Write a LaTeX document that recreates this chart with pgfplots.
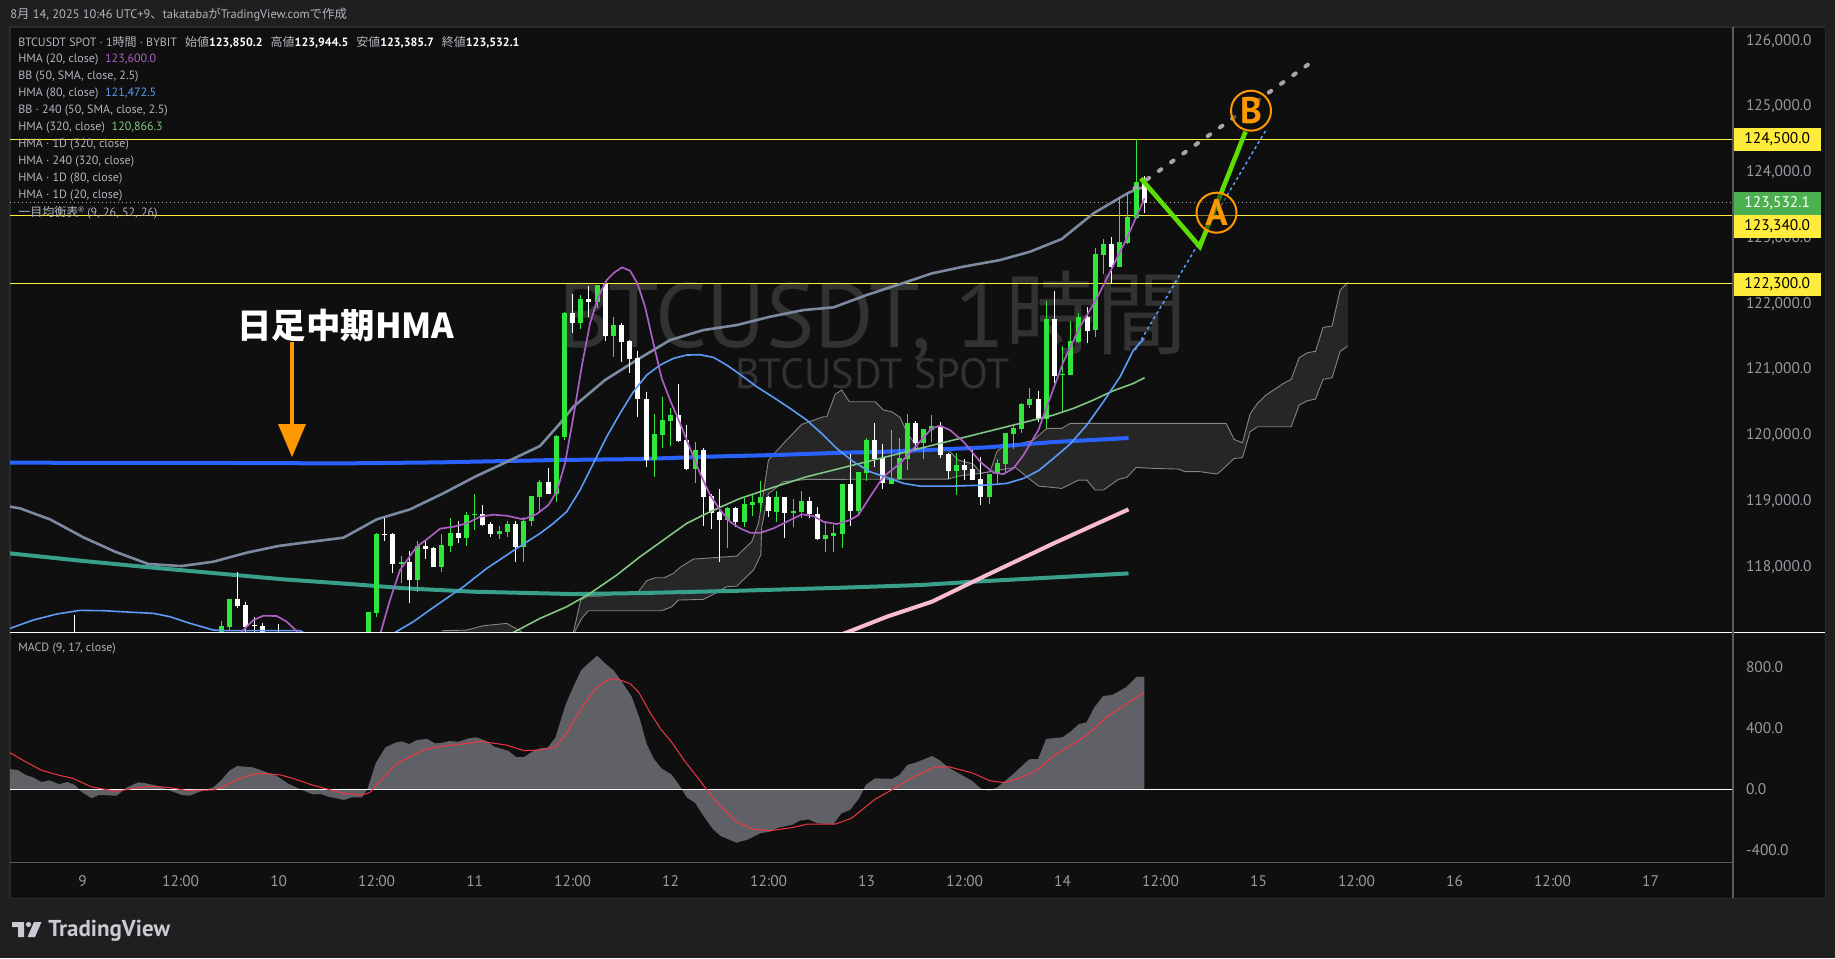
\documentclass[border=0pt]{standalone}
\usepackage{fontspec}
\usepackage{pgfplots}
\usepackage{pgfplotstable}
\pgfplotsset{compat=1.18}
\setmainfont{PT Sans}
\newfontfamily\jp{Noto Sans CJK JP}
\definecolor{outer}{HTML}{1F1F1F}
\definecolor{pane}{HTML}{0F0F0F}
\definecolor{edge}{HTML}{2B2B2B}
\definecolor{axline}{HTML}{5A5A5A}
\definecolor{lbl}{HTML}{B2B5BE}
\definecolor{wm}{HTML}{323232}
\definecolor{cgreen}{HTML}{30E63A}
\definecolor{hma20}{HTML}{AB5FC4}
\definecolor{hma80}{HTML}{5B9CF6}
\definecolor{hma320}{HTML}{81C784}
\definecolor{bb}{HTML}{7B8A9E}
\definecolor{dblue}{HTML}{2962FF}
\definecolor{teal}{HTML}{379F8A}
\definecolor{pink}{HTML}{F8BBD0}
\definecolor{cloud}{HTML}{262626}
\definecolor{cloudline}{HTML}{858585}
\definecolor{hline}{HTML}{FFEB3B}
\definecolor{zig}{HTML}{5CDE00}
\definecolor{org}{HTML}{FF9800}
\definecolor{hist}{HTML}{606166}
\definecolor{sig}{HTML}{F23645}
\definecolor{lastg}{HTML}{4CAF50}

% hourly candles, t = hours since Aug 9 00:00, body low/high, wick low/high
\pgfplotstableread{
t bl bh wl wh
17 116800 117098 116700 117174
18 117077 117508 117037 117508
35 116700 117305 116600 117310
36 117300 118496 117239 118507
39 118040 118071 117746 118162
41 117797 118314 117619 118390
44 117999 118324 117924 118496
45 118319 118507 118223 118735
47 118436 118780 118319 118836
48 118785 118801 118557 119105
51 118496 118537 118425 118618
52 118527 118649 118456 118699
54 118304 118699 118076 118760
55 118699 119074 118623 119074
56 119064 119287 118836 119318
58 119105 119987 118988 120002
59 119977 121853 119926 121878
61 121711 122066 121620 122132
63 122025 122284 121929 122284
65 121508 121675 121194 121792
70 119622 120017 119369 120322
71 120002 120230 119799 120575
72 120215 120306 119835 120408
75 119480 119774 119267 119891
79 118709 118887 118289 118912
81 118679 118948 118598 119049
82 118938 118978 118770 119090
83 118963 119054 118836 119303
85 118836 119054 118684 119156
87 118821 118841 118608 119024
88 118836 118993 118735 119151
91 118415 118476 118228 118659
92 118471 118507 118228 118633
93 118496 119257 118289 119257
95 118846 119439 118770 119439
96 119429 119926 119303 119951
99 119262 119343 119262 120078
100 119328 119647 119318 119951
101 119637 120180 119470 120317
103 119886 120093 119637 120093
104 120078 120139 119901 120306
107 119460 119541 119090 119723
111 119059 119409 118953 119409
112 119409 119571 119267 119632
113 119561 120028 119419 120028
114 120023 120109 119794 120144
115 120099 120474 120038 120484
116 120459 120545 120418 120712
118 120251 121762 120104 122035
120 120920 120930 120357 121356
121 120915 121432 120915 121736
122 121422 121792 121397 121853
124 121599 122755 121498 122842
125 122740 122908 122446 122984
127 122558 122938 122558 123627
128 122923 123318 122902 123678
129 123308 123845 123283 124499
}\greencandles
\pgfplotstableread{
t bl bh wl wh
-1 116700 116900 116600 117265
19 117402 117508 117372 117919
20 117088 117417 116950 117463
21 117100 117115 116900 117240
22 116986 117098 116900 117148
24 116800 116950 116700 117128
37 118476 118496 118390 118735
38 118045 118496 117908 118507
40 117797 118071 117452 118238
42 118273 118314 118121 118390
43 117999 118284 117994 118294
46 118436 118507 118354 118694
49 118628 118796 118618 118938
50 118496 118649 118456 118684
53 118304 118649 118076 118699
57 119105 119287 119105 119495
60 121711 121853 121559 122147
62 122030 122066 121802 122269
64 121508 122294 121432 122300
66 121417 121675 121118 121701
67 121158 121432 120950 121447
68 120545 121168 120281 121280
69 119622 120545 119521 120651
73 119911 120306 119901 120778
74 119480 119926 119470 120154
76 119064 119774 118623 119800
77 118821 119074 118567 119105
78 118709 118831 118076 119181
80 118679 118887 118608 118902
84 118846 119054 118760 119074
86 118821 119054 118441 119064
89 118801 118993 118745 119054
90 118415 118801 118405 118907
94 118846 119257 118623 119708
97 119637 119926 119521 120180
98 119267 119652 119181 119860
102 119886 120180 119784 120210
105 119698 120139 119647 120195
106 119460 119708 119328 119734
108 119470 119546 119318 119632
109 119318 119485 119318 119774
110 119059 119333 118938 119673
117 120251 120545 120200 120672
119 120900 121762 120798 122192
123 121589 121792 121407 121944
126 122558 122908 122299 123014
130 123532 123850 123386 123945
}\whitecandles

\newcommand{\candles}[2]{%
  \addplot[draw=none,forget plot,error bars/.cd,y dir=plus,y explicit,error mark=none,
    error bar style={draw=#2,line width=0.5pt}]
    table[x=t,y=wl,y error plus expr=\thisrow{wh}-\thisrow{wl}] {#1};
  \addplot[draw=none,forget plot,error bars/.cd,y dir=plus,y explicit,error mark=none,
    error bar style={draw=#2,line width=2.5pt}]
    table[x=t,y=bl,y error plus expr=\thisrow{bh}-\thisrow{bl}] {#1};
}

\begin{document}
\begin{tikzpicture}[x=0.5pt,y=-0.5pt]
\path[use as bounding box,fill=outer] (0,0) rectangle (1835,958);
\fill[edge] (9,26) rectangle (1826,899);
\fill[pane] (10.5,27.5) rectangle (1825,898);

% watermark
\node[anchor=west,text=wm,inner sep=0pt] at (558,316) {\fontsize{45.5}{46}\selectfont BTCUSDT, 1{\jp 時間}};
\node[anchor=west,text=wm,inner sep=0pt] at (735,374) {\fontsize{21.1}{22}\selectfont BTCUSDT SPOT};

% price pane
\begin{axis}[
  at={(5pt,-316pt)},anchor=south west,
  scale only axis,width=861.5pt,height=302.5pt,
  xmin=-8.9,xmax=202.1,ymin=117007,ymax=126208,
  xtick=\empty,
  ytick={118000,119000,120000,121000,122000,123000,124000,125000,126000},
  yticklabel pos=right,
  scaled y ticks=false,
  axis line style={draw=none},
  major tick length=0pt,
  yticklabel style={font=\fontsize{7.7}{9}\selectfont,text=lbl!85!black,xshift=3pt,
    /pgf/number format/.cd,fixed,fixed zerofill,precision=1,1000 sep={,},assume math mode=true},
]
% ichimoku
\addplot[fill=cloud,draw=none,forget plot] coordinates {
(43,116500)(43.96,117026)(47,117036)(49.07,117102)(51.93,117138)(53.76,117011)(55,116500)} -- cycle;
\addplot[cloudline,line width=0.45pt,forget plot] coordinates {
(43.96,117026)(47,117036)(49.07,117102)(51.93,117138)(53.76,117011)(55,116800)};
\addplot[fill=cloud,draw=none,forget plot] coordinates {
(60.09,117000)(60.99,117493)(61.93,117553)(63.36,117553)(68.05,117619)(69.07,117787)(70.09,117832)(71.2,117832)(72.34,117898)(73.16,117990)(74.79,118116)(80.1,118162)(81.93,118380)(82.75,118659)(83.36,119115)(83.98,119622)(86.02,119901)(88.06,120165)(90.71,120281)(91.12,120281)(92.14,120621)(92.95,120687)(93.89,120509)(97.04,120509)(98.06,120383)(99.08,120357)(100.1,120271)(101,120028)(101.73,119901)(102.55,119774)(106,119774)(107.24,119622)(109.08,119561)(110.02,119419)(111.12,119445)(111.94,119749)(112.68,119825)(114.19,119850)(116.43,119926)(118.06,120104)(119.9,120104)(120.92,120180)(140.03,120180)(141,119936)(142.03,119886)(142.96,120322)(143.86,120484)(144.92,120611)(147.05,120788)(147.99,120849)(148.97,121179)(149.99,121255)(150.97,121275)(151.9,121640)(153,121660)(153.99,122208)(154.93,122324)
(154.93,121356)(153.99,121275)(153,120874)(151.9,120849)(150.97,120550)(149.99,120525)(148.97,120459)(147.99,120129)(143.86,120129)(142.96,120053)(142.03,119658)(141,119647)(139.5,119470)(138.9,119409)(136.85,119445)(135,119445)(134.19,119485)(131.13,119495)(129.01,119510)(127.86,119358)(126.84,119328)(125,119166)(123.98,119166)(122.96,119318)(121.94,119318)(119.9,119191)(117.04,119227)(114.19,119511)(111.12,119445)(109.9,119419)(107.24,119379)(106,119333)(88.67,119328)(85.81,119292)(84.59,119166)(83.98,119115)(83.16,118608)(83.04,118177)(82.14,117949)(80.1,117705)(78.87,117695)(77.44,117594)(76.01,117503)(72.95,117493)(72.14,117391)(70.91,117331)(61.93,117331)(61.11,117214)(60.21,117000)} -- cycle;
\addplot[cloudline,line width=0.45pt,forget plot] coordinates {
(60.09,117000)(60.99,117493)(61.93,117553)(63.36,117553)(68.05,117619)(69.07,117787)(70.09,117832)(71.2,117832)(72.34,117898)(73.16,117990)(74.79,118116)(80.1,118162)(81.93,118380)(82.75,118659)(83.36,119115)(83.98,119622)(86.02,119901)(88.06,120165)(90.71,120281)(91.12,120281)(92.14,120621)(92.95,120687)(93.89,120509)(97.04,120509)(98.06,120383)(99.08,120357)(100.1,120271)(101,120028)(101.73,119901)(102.55,119774)(106,119774)(107.24,119622)(109.08,119561)(110.02,119419)(111.12,119445)(111.94,119749)(112.68,119825)(114.19,119850)(116.43,119926)(118.06,120104)(119.9,120104)(120.92,120180)(140.03,120180)(141,119936)(142.03,119886)(142.96,120322)(143.86,120484)(144.92,120611)(147.05,120788)(147.99,120849)(148.97,121179)(149.99,121255)(150.97,121275)(151.9,121640)(153,121660)(153.99,122208)(154.93,122324)};
\addplot[cloudline,line width=0.45pt,forget plot] coordinates {
(60.21,117000)(61.11,117214)(61.93,117331)(70.91,117331)(72.14,117391)(72.95,117493)(76.01,117503)(77.44,117594)(78.87,117695)(80.1,117705)(82.14,117949)(83.04,118177)(83.16,118608)(83.98,119115)(84.59,119166)(85.81,119292)(88.67,119328)(106,119333)(107.24,119379)(109.9,119419)(111.12,119445)(114.19,119511)(117.04,119227)(119.9,119191)(121.94,119318)(122.96,119318)(123.98,119166)(125,119166)(126.84,119328)(127.86,119358)(129.01,119510)(131.13,119495)(134.19,119485)(135,119445)(136.85,119445)(138.9,119409)(139.5,119470)(141,119647)(142.03,119658)(142.96,120053)(143.86,120129)(147.99,120129)(148.97,120459)(149.99,120525)(150.97,120550)(151.9,120849)(153,120874)(153.99,121275)(154.93,121356)};

% horizontal levels
\addplot[hline,line width=0.5pt,forget plot] coordinates {(-8.9,124500)(202.1,124500)};
\addplot[hline,line width=0.5pt,forget plot] coordinates {(-8.9,123340)(202.1,123340)};
\addplot[hline,line width=0.5pt,forget plot] coordinates {(-8.9,122300)(202.1,122300)};
\addplot[lbl,line width=0.5pt,dash pattern=on 0.5pt off 1.5pt,forget plot] coordinates {(-8.9,123532.1)(202.1,123532.1)};

% higher timeframe HMAs
\addplot[teal,line width=2pt,forget plot] coordinates {
(-8.9,118203)(0.08,118087)(8.24,117990)(16.41,117899)(24.57,117808)(32.74,117737)(39.7,117670)(47.84,117620)(60.09,117584)(68.26,117599)(80.5,117635)(92.75,117680)(102.55,117721)(109.08,117772)(118.88,117837)(128.07,117898)};
\addplot[pink,line width=2pt,forget plot] coordinates {
(90,116850)(93.57,117000)(98.47,117239)(103.98,117467)(110.72,117873)(118.88,118354)(128.07,118872)};
\addplot[dblue,line width=2pt,forget plot] coordinates {
(-8.9,119582)(20,119577)(31.5,119571)(43.76,119587)(57.64,119622)(68.26,119637)(76.4,119673)(84.6,119698)(92.75,119733)(98.47,119749)(110.72,119815)(118.88,119896)(128.07,119957)};
% BB 240
\addplot[bb,line width=1.3pt,forget plot] coordinates {
(-8.9,118913)(-7.68,118888)(-4,118720)(0.08,118447)(3.96,118229)(8.04,118041)(12.12,118010)(16,118076)(20.08,118213)(23.96,118315)(28.05,118381)(31.93,118441)(36,118720)(40.09,118872)(44.17,119116)(48.05,119369)(51.12,119547)(56,119835)(58.46,120180)(60.09,120433)(63.97,120839)(67.85,121143)(71.93,121447)(76.01,121599)(80.1,121675)(84.18,121802)(88.26,121903)(91.93,121944)(96.02,122132)(100.1,122299)(104,122461)(107.86,122563)(112.35,122664)(116,122790)(119.9,122984)(123.78,123374)(128.07,123688)(130,123780)};

\candles{\greencandles}{cgreen}
\candles{\whitecandles}{white}

% HMA 320
\addplot[hma320,line width=0.8pt,forget plot] coordinates {
(50,116850)(52.74,117000)(56.01,117214)(59.27,117391)(62.13,117594)(65.4,117873)(68.26,118152)(71.11,118405)(73.97,118659)(76.83,118836)(80.51,119039)(84.18,119191)(88.67,119369)(94.38,119546)(98.47,119673)(102.55,119800)(106.63,119926)(110.72,120053)(114.8,120180)(118.88,120306)(121.33,120408)(123.78,120535)(126.23,120677)(128.68,120788)(130.03,120874)};
% HMA 80
\addplot[hma80,line width=0.8pt,forget plot] coordinates {
(-8.9,117062)(-6.05,117189)(-3.19,117280)(-0.33,117336)(2.53,117331)(6.2,117306)(8.65,117291)(10.69,117240)(13.14,117139)(16,117037)(17.63,117027)(26.6,117027)(30,116800)(36,116800)(38.25,117000)(40.49,117163)(43.35,117416)(46.62,117695)(49.48,117974)(53.15,118278)(56.01,118507)(57.64,118659)(59.27,118836)(60.91,119166)(62.54,119571)(64.17,119977)(65.81,120332)(67.44,120661)(69.07,120915)(70.71,121067)(72.34,121168)(73.97,121219)(75.6,121224)(77.24,121184)(78.87,121067)(80.5,120925)(82.55,120737)(84.59,120575)(86.63,120408)(88.67,120230)(90.71,120002)(92.34,119800)(94.38,119597)(96.42,119445)(98.47,119358)(100.51,119267)(102.55,119226)(106.63,119226)(110.72,119242)(113.16,119267)(115.21,119343)(117.04,119460)(118.88,119647)(120.92,119865)(122.96,120154)(125,120509)(127.05,120890)(128.68,121295)(130,121472)};
% HMA 20
\addplot[hma20,line width=0.85pt,forget plot] coordinates {
(18.5,116800)(19.47,117012)(20.9,117189)(22.13,117255)(23.76,117250)(24.98,117164)(26.29,117012)(27.5,116800)(35.5,116700)(36.49,117000)(37.63,117493)(38.86,117949)(40.9,118304)(42.13,118415)(43.76,118578)(45.39,118608)(47.03,118659)(48.66,118760)(50.29,118791)(51.93,118775)(53.97,118720)(55.6,118801)(57.03,118938)(58.05,119140)(59.07,119571)(60.09,120281)(61.11,121042)(62.13,121701)(63.15,122106)(64.17,122360)(65.07,122471)(66.05,122552)(67.03,122502)(67.93,122309)(68.87,121954)(69.89,121396)(70.91,120864)(71.93,120535)(73.16,120180)(74.38,119799)(75.61,119419)(76.83,119090)(78.06,118862)(79.28,118684)(80.51,118583)(81.73,118517)(83.04,118517)(84.59,118583)(86.22,118684)(88.06,118796)(89.49,118770)(90.71,118684)(92.35,118649)(93.97,118710)(95,118786)(96.42,119064)(98.06,119369)(100.1,119571)(102.14,119850)(103.98,120104)(105,120144)(106.22,120078)(107.86,119901)(109.9,119597)(111.53,119429)(112.76,119409)(113.98,119495)(115.21,119698)(117.04,120078)(118.06,120433)(120.11,121118)(122.15,121650)(124.19,122081)(125.62,122436)(127.87,122994)(130.03,123602)};

% hand-drawn trend lines
\addplot[hma80,line width=0.75pt,dash pattern=on 1.5pt off 1.5pt,forget plot] coordinates {(128.88,121295)(144.9,124640)};
\addplot[black!35,line width=2pt,line cap=round,dash pattern=on 1.5pt off 6pt,forget plot] coordinates {(128.8,123754)(151.1,125729)};
\addplot[zig,line width=2.3pt,forget plot] coordinates {(129.58,123906)(136.8,122867)(142.4,124616)};
\end{axis}

% macd pane
\begin{axis}[
  at={(5pt,-431.25pt)},anchor=south west,
  scale only axis,width=861.5pt,height=115.25pt,
  xmin=-8.9,xmax=202.1,ymin=-481,ymax=1033.5,
  xtick={0,12,24,36,48,60,72,84,96,108,120,132,144,156,168,180,192},
  xticklabels={9,12:00,10,12:00,11,12:00,12,12:00,13,12:00,14,12:00,15,12:00,16,12:00,17},
  ytick={-400,0,400,800},
  yticklabel pos=right,
  axis line style={draw=none},
  major tick length=0pt,
  xticklabel style={font=\fontsize{7.7}{9}\selectfont,text=lbl!85!black,yshift=-3pt},
  yticklabel style={font=\fontsize{7.7}{9}\selectfont,text=lbl!85!black,xshift=3pt,
    /pgf/number format/.cd,fixed,fixed zerofill,precision=1,assume math mode=true},
]
\addplot[fill=hist,draw=none,forget plot] coordinates {
(-8.92,0)(-8.92,133)(-7.95,127)(-6.98,94)(-6.01,77)(-5.04,48)(-4.08,59)(-2.87,33)(-1.9,48)(-0.93,28)(-0.2,-15)(1.11,-59)(1.98,-37)(4.16,-42)(5.37,11)(6.82,46)(7.79,39)(9.24,22)(10.7,-9)(12.15,-37)(13.12,-42)(14.09,-20)(16.02,13)(16.99,61)(17.96,122)(18.93,153)(20.87,144)(22.32,116)(23.77,87)(25.22,35)(26.68,0)(28.13,-33)(29.1,-31)(30.07,-48)(32,-70)(32.97,-53)(34.18,-53)(34.91,6)(35.88,171)(37.09,276)(38.3,307)(39.03,315)(40,298)(40.96,324)(42.17,331)(43.14,302)(44.11,306)(44.84,317)(46.05,313)(47.26,335)(48.23,342)(49.44,317)(50.41,280)(52.1,254)(53.07,212)(54.04,212)(55.25,254)(55.98,269)(56.94,274)(57.91,342)(59.12,554)(60.09,674)(61.06,784)(62.03,832)(63,878)(63.97,828)(65.05,779)(66.02,707)(67.23,609)(68.2,466)(69.07,298)(69.9,204)(70.87,138)(72.08,98)(73.05,28)(74.01,-55)(74.98,-88)(75.95,-169)(77.16,-261)(78.13,-307)(80.07,-351)(81.52,-329)(82.97,-289)(84.18,-278)(85.15,-252)(86.85,-234)(87.82,-206)(88.88,-197)(90,-224)(91.93,-230)(92.9,-158)(93.97,-136)(95.08,-59)(95.9,28)(97.02,72)(99.1,68)(100.02,94)(100.99,160)(102.1,177)(104.04,219)(105.01,188)(105.98,144)(108.88,57)(110.09,0)(111.06,-9)(112.03,13)(113.97,101)(115.9,197)(117,199)(117.99,331)(120,342)(120.97,379)(121.96,427)(122.93,440)(123.9,539)(124.96,613)(126.08,620)(127.77,670)(129.08,740)(130,738)(130,0)} -- cycle;
\addplot[white,line width=0.5pt,forget plot] coordinates {(-8.9,0)(202.1,0)};
\addplot[sig,line width=0.5pt,forget plot] coordinates {
(-8.92,241)(-7.22,188)(-5.04,125)(-2.87,92)(-1.17,72)(1.01,17)(2.46,2)(4.16,-13)(6.34,7)(8.52,20)(10.7,11)(12.63,-7)(16.02,-4)(17.23,17)(18.93,66)(20.87,98)(22.32,105)(24.25,94)(25.95,68)(28.13,28)(30.07,0)(32,-26)(34.18,-37)(35.15,-22)(36.36,50)(38.54,171)(40.23,219)(41.93,263)(43.63,280)(46.05,295)(48.71,315)(51.86,291)(54.04,254)(55.98,258)(57.91,280)(59.12,357)(61.06,532)(63,674)(64.33,718)(65.39,725)(66.99,696)(68.06,641)(69.41,510)(70.87,390)(72.08,313)(73.77,182)(75.23,83)(76.44,-4)(78.13,-114)(80.07,-213)(82.01,-261)(84.18,-272)(87.09,-250)(88.78,-228)(92.18,-228)(94.11,-191)(95.31,-140)(97.02,-66)(99.44,7)(101.62,79)(104.28,144)(105.98,149)(108.88,109)(111.06,57)(112.76,44)(114.94,77)(116.87,127)(119.05,225)(120.97,287)(123,357)(125.35,473)(127.77,560)(130,637)};
\end{axis}

% pane rules
\draw[white,line width=0.5pt] (10,632) -- (1825,632);
\draw[axline,line width=0.6pt] (1733,27) -- (1733,898);
\draw[axline,line width=0.6pt] (10,862.5) -- (1733,862.5);

% price tags
\newcommand{\ptag}[4]{\node[fill=#2,text=#3,minimum width=43.5pt,minimum height=11.4pt,inner sep=0pt,
  font=\fontsize{7.7}{9}\selectfont] at (1777.2,#1) {#4};}
\ptag{139.3}{hline}{black}{124,500.0}
\ptag{203.5}{lastg}{white}{123,532.1}
\ptag{226.3}{hline}{black}{123,340.0}
\ptag{284.3}{hline}{black}{122,300.0}

% legend block
\newcommand{\lgd}[2]{\node[anchor=west,inner sep=0pt,text=lbl,font=\fontsize{6}{7}\selectfont] at (18,#1) {#2};}
\lgd{42}{BTCUSDT SPOT · 1{\jp 時間} · BYBIT\hspace{4pt}{\jp 始値}\textcolor{white}{\bfseries 123,850.2}\hspace{4pt}{\jp 高値}\textcolor{white}{\bfseries 123,944.5}\hspace{4pt}{\jp 安値}\textcolor{white}{\bfseries 123,385.7}\hspace{4pt}{\jp 終値}\textcolor{white}{\bfseries 123,532.1}}
\lgd{60}{HMA (20, close)\hspace{3.4pt}\textcolor{hma20}{123,600.0}}
\lgd{77}{BB (50, SMA, close, 2.5)}
\lgd{94}{HMA (80, close)\hspace{3.4pt}\textcolor{hma80}{121,472.5}}
\lgd{111}{BB · 240 (50, SMA, close, 2.5)}
\lgd{128}{HMA (320, close)\hspace{3.4pt}\textcolor{hma320}{120,866.3}}
\lgd{145}{HMA · 1D (320, close)}
\lgd{162}{HMA · 240 (320, close)}
\lgd{179}{HMA · 1D (80, close)}
\lgd{196}{HMA · 1D (20, close)}
\lgd{213}{{\jp 一目均衡表®} (9, 26, 52, 26)}
\lgd{649}{MACD (9, 17, close)}

% header and footer
\node[anchor=west,inner sep=0pt,text=lbl,font=\fontsize{6.2}{7}\selectfont] at (10,15) {8{\jp 月} 14, 2025 10:46 UTC+9{\jp 、}takataba{\jp が}TradingView.com{\jp で作成}};
\fill[lbl!70!white] (12,922) -- (24,922) -- (24,937) -- (18,937) -- (18,927) -- (12,927) -- cycle;
\fill[lbl!70!white] (28.5,924.5) circle (2.6);
\fill[lbl!70!white] (34,922) -- (41.5,922) -- (35,937) -- (27.5,937) -- cycle;
\node[anchor=west,inner sep=0pt,text=lbl!70!white,font=\fontsize{11.5}{12}\bfseries] at (48,931) {TradingView};

% annotations
\node[text=white,inner sep=0pt,font=\fontsize{17.2}{18}\jp\bfseries] at (346,325) {日足中期HMA};
\fill[org] (290,342) rectangle (293.5,426);
\fill[org] (278,424) -- (306,424) -- (292,457) -- cycle;
\node[circle,draw=org,line width=1pt,fill=pane,fill opacity=0.5,text opacity=1,text=org,minimum size=20pt,inner sep=0pt,
  font=\fontsize{18.5}{18.5}\bfseries] at (1216.5,212.7) {A};
\node[circle,draw=org,line width=1pt,fill=pane,fill opacity=0.5,text opacity=1,text=org,minimum size=20pt,inner sep=0pt,
  font=\fontsize{18.5}{18.5}\bfseries] at (1251,110.7) {B};
\end{tikzpicture}
\end{document}
